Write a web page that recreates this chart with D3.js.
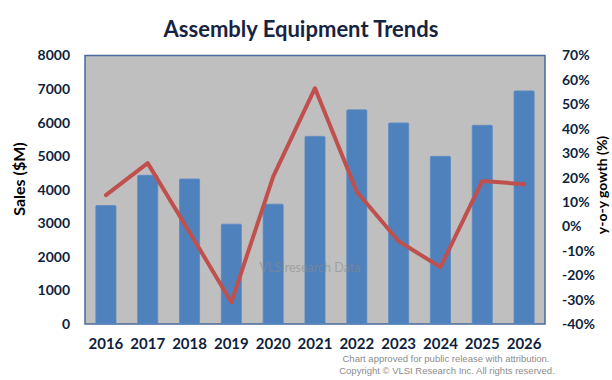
<!DOCTYPE html>
<html><head><meta charset="utf-8">
<script src="https://cdn.jsdelivr.net/npm/d3@7/dist/d3.min.js"></script>
<style>body{margin:0;background:#fff}svg{display:block}</style>
</head><body>
<svg id="c" width="612" height="380"></svg>
<script>
const years = ["2016","2017","2018","2019","2020","2021","2022","2023","2024","2025","2026"];
const sales = [3530, 4430, 4320, 2975, 3570, 5590, 6380, 5990, 4995, 5920, 6945];
const growth = [12.8, 25.9, -2.4, -31.1, 20.4, 56.6, 14.2, -6.1, -16.7, 18.6, 17.3];
const leftTicks = [0,1000,2000,3000,4000,5000,6000,7000,8000];
const rightTicks = [-40,-30,-20,-10,0,10,20,30,40,50,60,70];

const svg = d3.select("#c");
const L = 85, R = 545, T = 55.5, B = 324;
const font = "Lato, 'Open Sans', sans-serif";
const navy = "#0F1F3D";

const x = d3.scaleBand().domain(years).range([L, R]).paddingInner(0.52).paddingOuter(0.26);
const xc = d3.scaleBand().domain(years).range([L, R]);
const y = d3.scaleLinear().domain([0, 8000]).range([B, T]);
const y2 = d3.scaleLinear().domain([-40, 70]).range([B, T]);

svg.append("text").attr("x", 301).attr("y", 37).attr("text-anchor", "middle")
  .attr("font-family", font).attr("font-weight", "bold").attr("font-size", 22)
  .attr("fill", "#17243F").text("Assembly Equipment Trends");

svg.append("rect").attr("x", L).attr("y", T).attr("width", R - L).attr("height", B - T)
  .attr("fill", "#BFBFBF").attr("stroke", "#4A6A9C").attr("stroke-width", 1.5);

svg.selectAll("rect.bar").data(years).enter().append("rect").attr("class", "bar")
  .attr("x", d => x(d)).attr("width", x.bandwidth())
  .attr("y", (d, i) => y(sales[i])).attr("height", (d, i) => y(0) - y(sales[i]))
  .attr("fill", "#4F81BD").attr("stroke", "#5B8AC4").attr("stroke-width", 0.8).attr("rx", 1);

svg.append("text").attr("x", 310).attr("y", 272).attr("text-anchor", "middle")
  .attr("font-family", "Lato, sans-serif").attr("font-size", 12.5)
  .attr("fill", "#8A8A8A").attr("fill-opacity", 0.6).text("VLSIresearch Data");

const line = d3.line().x((d, i) => xc(years[i]) + xc.bandwidth() / 2).y(d => y2(d));
svg.append("path").datum(growth).attr("d", line).attr("fill", "none")
  .attr("stroke", "#C0504D").attr("stroke-width", 4).attr("stroke-linejoin", "round").attr("stroke-linecap", "round");

// left axis
const gl = svg.append("g").attr("transform", `translate(${L},0)`)
  .call(d3.axisLeft(y).tickValues(leftTicks).tickSize(0).tickPadding(15).tickFormat(d3.format("d")));
gl.select(".domain").remove();
gl.selectAll("text").attr("font-family", font).attr("font-weight", "bold").attr("font-size", 14).attr("fill", navy);

// right axis
const gr = svg.append("g").attr("transform", `translate(${R},0)`)
  .call(d3.axisRight(y2).tickValues(rightTicks).tickSize(0).tickPadding(17).tickFormat(d => d + "%"));
gr.select(".domain").remove();
gr.selectAll("text").attr("font-family", font).attr("font-weight", "bold").attr("font-size", 14).attr("fill", navy);

// bottom axis
const gb = svg.append("g").attr("transform", `translate(0,${B})`)
  .call(d3.axisBottom(xc).tickSize(0).tickPadding(14));
gb.select(".domain").remove();
gb.selectAll("text").attr("font-family", font).attr("font-weight", "bold").attr("font-size", 15).attr("fill", navy);

svg.append("text").attr("transform", "translate(25,179) rotate(-90)").attr("text-anchor", "middle")
  .attr("font-family", font).attr("font-weight", "bold").attr("font-size", 16).attr("fill", "#000")
  .text("Sales ($M)");
svg.append("text").attr("transform", "translate(607,185) rotate(-90)").attr("text-anchor", "middle")
  .attr("font-family", font).attr("font-weight", "bold").attr("font-size", 14).attr("fill", "#000")
  .text("y-o-y gowth (%)");

svg.append("text").attr("x", 446).attr("y", 362).attr("text-anchor", "middle")
  .attr("font-family", "'Liberation Sans', Arial, sans-serif").attr("font-size", 9.5).attr("fill", "#8C8C8C")
  .text("Chart approved  for public release with attribution.");
svg.append("text").attr("x", 447).attr("y", 374).attr("text-anchor", "middle")
  .attr("font-family", "'Liberation Sans', Arial, sans-serif").attr("font-size", 9.5).attr("fill", "#8C8C8C")
  .text("Copyright \u00A9 VLSI Research Inc.  All rights reserved.");
</script>
</body></html>
